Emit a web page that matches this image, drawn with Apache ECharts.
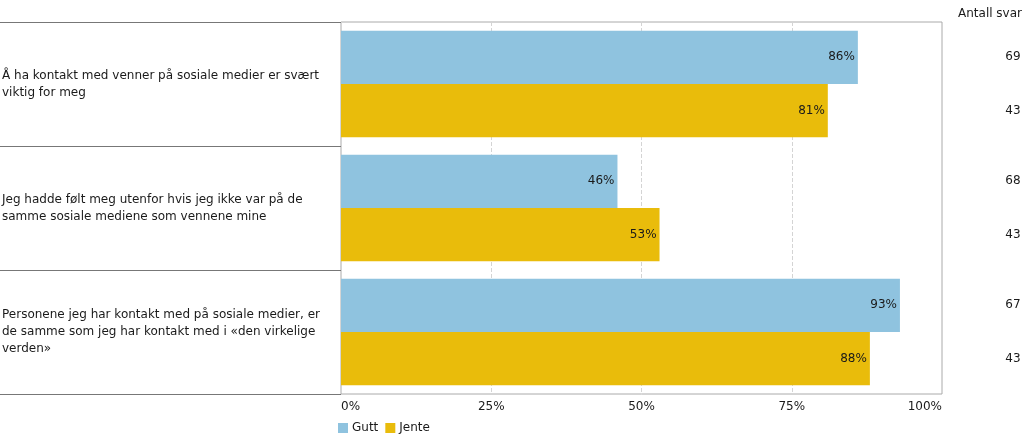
<!DOCTYPE html>
<html>
<head>
<meta charset="utf-8">
<script src="https://cdn.jsdelivr.net/npm/echarts@6/dist/echarts.min.js"></script>
<style>html,body{margin:0;padding:0;background:#fff}#c{width:1023px;height:438px}</style>
</head>
<body>
<div id="c"></div>
<script>
const categories = [
  "Å ha kontakt med venner på sosiale medier er svært\nviktig for meg",
  "Jeg hadde følt meg utenfor hvis jeg ikke var på de\nsamme sosiale mediene som vennene mine",
  "Personene jeg har kontakt med på sosiale medier, er\nde samme som jeg har kontakt med i «den virkelige\nverden»"
];
const gutt = [86, 46, 93];
const jente = [81, 53, 88];
const guttN = [69, 68, 67];
const jenteN = [43, 43, 43];
const xTicks = [0, 25, 50, 75, 100];

const FONT = 'DejaVu Sans';
const FS = 12;
const TXT = '#1a1a1a';
const BLUE = '#8fc3df';
const YELLOW = '#e9bc0b';
const barGeom = { barGap: '0%', barCategoryGap: '14%' };

const chart = echarts.init(document.getElementById('c'), null, { renderer: 'canvas' });
chart.setOption({
  animation: false,
  textStyle: { fontFamily: FONT, fontSize: FS, color: TXT },
  title: {
    text: 'Antall svar', right: -4, top: 3,
    textStyle: { fontFamily: FONT, fontSize: FS, fontWeight: 'normal', color: TXT }
  },
  legend: {
    left: 333, top: 417, itemWidth: 10, itemHeight: 10, itemGap: 7,
    icon: 'rect',
    textStyle: { fontFamily: FONT, fontSize: FS, color: TXT, padding: [0, 0, 0, -1] },
    data: ['Gutt', 'Jente']
  },
  grid: [
    { left: 341, right: 81, top: 22, bottom: 44, show: true, borderColor: '#aaa', borderWidth: 1, outerBoundsMode: 'none', containLabel: false },
    { left: 1003, width: 20, top: 22, bottom: 44, outerBoundsMode: 'none', containLabel: false }
  ],
  xAxis: [
    {
      gridIndex: 0, type: 'value', min: 0, max: 100, interval: 25,
      axisLine: { show: false }, axisTick: { show: false },
      axisLabel: {
        margin: 7, formatter: v => xTicks.includes(v) ? v + '%' : '',
        fontFamily: FONT, fontSize: FS, color: TXT,
        alignMinLabel: 'left', alignMaxLabel: 'right'
      },
      splitLine: { show: true, lineStyle: { color: '#d4d4d4', type: 'dashed' } }
    },
    { gridIndex: 1, type: 'value', min: 0, max: 1, show: false }
  ],
  yAxis: [
    {
      gridIndex: 0, type: 'category', data: categories, inverse: true,
      axisLine: { show: false },
      axisTick: { show: true, length: 341, lineStyle: { color: '#777' } },
      axisLabel: {
        margin: 339, align: 'left', overflow: 'none',
        fontFamily: FONT, fontSize: FS, color: TXT, lineHeight: 17
      }
    },
    { gridIndex: 1, type: 'category', data: categories, inverse: true, show: false }
  ],
  series: [
    {
      name: 'Gutt', type: 'bar', data: gutt, xAxisIndex: 0, yAxisIndex: 0, ...barGeom,
      itemStyle: { color: BLUE },
      label: { show: true, position: 'insideRight', distance: 3, formatter: '{c}%', color: TXT, fontFamily: FONT, fontSize: FS }
    },
    {
      name: 'Jente', type: 'bar', data: jente, xAxisIndex: 0, yAxisIndex: 0, ...barGeom,
      itemStyle: { color: YELLOW },
      label: { show: true, position: 'insideRight', distance: 3, formatter: '{c}%', color: TXT, fontFamily: FONT, fontSize: FS }
    },
    {
      name: 'nGutt', type: 'bar', data: guttN.map(() => 1), xAxisIndex: 1, yAxisIndex: 1, ...barGeom,
      itemStyle: { color: 'rgba(0,0,0,0)' }, silent: true,
      label: { show: true, position: 'inside', formatter: p => guttN[p.dataIndex], color: TXT, fontFamily: FONT, fontSize: FS }
    },
    {
      name: 'nJente', type: 'bar', data: jenteN.map(() => 1), xAxisIndex: 1, yAxisIndex: 1, ...barGeom,
      itemStyle: { color: 'rgba(0,0,0,0)' }, silent: true,
      label: { show: true, position: 'inside', formatter: p => jenteN[p.dataIndex], color: TXT, fontFamily: FONT, fontSize: FS }
    }
  ]
});
</script>
</body>
</html>
